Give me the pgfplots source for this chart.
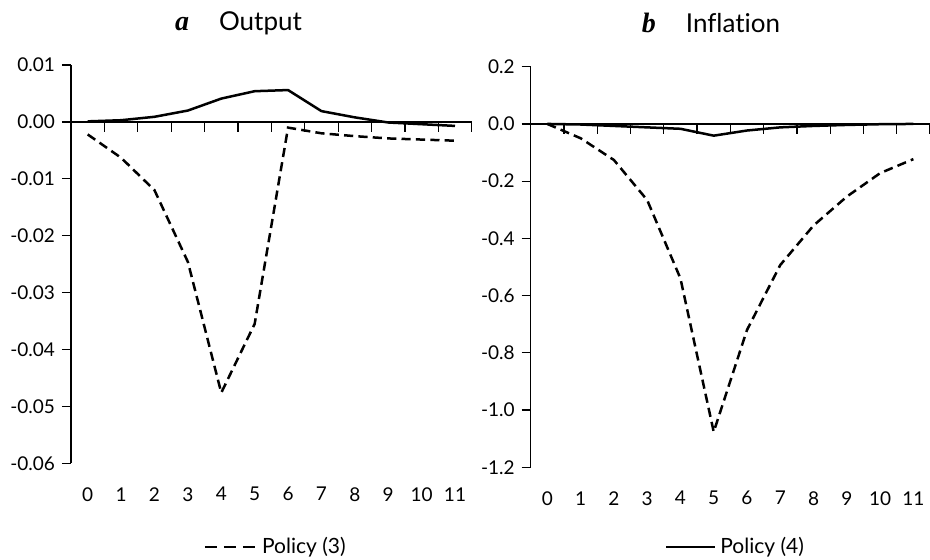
\documentclass[border=0pt]{standalone}
\usepackage{pgfplots}
\pgfplotsset{compat=1.18}
\usepackage{pgfplotstable}
\usepackage{fontspec}
\setmainfont{Lato}[Ligatures={NoCommon,NoRequired}]
\newfontfamily\serifbi{Liberation Serif}

% impulse responses, periods 0..11
\pgfplotstableread{
t   out3     out4     inf3     inf4
0   -0.0022  0.0001   0.000    0.000
1   -0.0063  0.0003   -0.050   -0.002
2   -0.0120  0.0009   -0.126   -0.007
3   -0.0246  0.0020   -0.266   -0.012
4   -0.0476  0.0041   -0.540   -0.017
5   -0.0355  0.0054   -1.076   -0.041
6   -0.0010  0.0056   -0.720   -0.023
7   -0.0020  0.0019   -0.493   -0.012
8   -0.0025  0.0008   -0.355   -0.007
9   -0.0029  -0.0001  -0.254   -0.0035
10  -0.0031  -0.0004  -0.172   -0.001
11  -0.0033  -0.0007  -0.123   0.000
}\irf

\pgfplotsset{
  base/.style={
    scale only axis, anchor=south west,
    xmin=-0.5, xmax=11.5,
    axis line style={line width=0.6pt},
    tick style={line width=0.6pt, black},
    tick align=outside,
    scaled y ticks=false,
    /pgf/number format/assume math mode=true,
    ticklabel style={font=\fontsize{9.5}{10}\selectfont},
  },
  main/.style={
    base, clip=false,
    axis y line*=left, axis x line*=bottom,
    x axis line style={draw=none},
    xtick={0,...,11}, major x tick style={draw=none},
    xticklabel style={yshift=-4pt},
    yticklabel style={xshift=0pt},
    major tick length=4.5pt,
    legend style={draw=none, fill=none, anchor=west,
      font=\fontsize{10.5}{11}\selectfont, inner sep=0pt,
      nodes={inner sep=2pt}},
  },
  zero/.style={
    base,
    axis x line*=middle, axis y line=none,
    xtick={0.5,1.5,...,11.5}, xticklabels={},
    ytick=\empty, major tick length=5pt,
  },
  dashline/.style={line width=1.25pt, dash pattern=on 4.6pt off 2.6pt},
  solidline/.style={line width=1.25pt},
}

\begin{document}
\begin{tikzpicture}
\path[use as bounding box] (0,0) rectangle (465pt,279.5pt);

% a: Output
\begin{axis}[main, at={(35.5pt,47.85pt)}, width=200.35pt, height=199.15pt,
  ymin=-0.06, ymax=0.01, ytick={-0.06,-0.05,...,0.01},
  yticklabels={-0.06,-0.05,-0.04,-0.03,-0.02,-0.01,0.00,0.01},
  legend style={at={(axis description cs:0.33,-0.21)}},
  legend image code/.code={\draw[line width=1.25pt, dash pattern=on 6pt off 3.5pt] (0pt,0pt) -- (26pt,0pt);}]
\addplot[dashline] table[x=t, y=out3] {\irf};
\addlegendentry{Policy (3)}
\addplot[solidline, forget plot] table[x=t, y=out4] {\irf};
\end{axis}
\begin{axis}[zero, at={(35.5pt,47.85pt)}, width=200.35pt, height=199.15pt,
  ymin=-0.06, ymax=0.01]
\end{axis}

% b: Inflation
\begin{axis}[main, at={(265.35pt,45.85pt)}, width=199.65pt, height=200.3pt,
  ymin=-1.2, ymax=0.2, ytick={-1.2,-1.0,...,0.2},
  yticklabels={-1.2,-1.0,-0.8,-0.6,-0.4,-0.2,0.0,0.2},
  legend style={at={(axis description cs:0.335,-0.199)}},
  legend image code/.code={\draw[line width=1.25pt] (0pt,0pt) -- (24.5pt,0pt);}]
\addplot[dashline, forget plot] table[x=t, y=inf3] {\irf};
\addplot[solidline] table[x=t, y=inf4] {\irf};
\addlegendentry{Policy (4)}
\end{axis}
\begin{axis}[zero, at={(265.35pt,45.85pt)}, width=199.65pt, height=200.3pt,
  ymin=-1.2, ymax=0.2]
\end{axis}

\node[anchor=base, font=\fontsize{13}{15}\selectfont] at (119.25pt,264.5pt)
  {{\serifbi\fontsize{14}{15}\selectfont\bfseries\itshape a}\hspace{15pt}Output};
\node[anchor=base, font=\fontsize{13}{15}\selectfont] at (355.5pt,263.5pt)
  {{\serifbi\fontsize{14}{15}\selectfont\bfseries\itshape b}\hspace{15pt}Inflation};
\end{tikzpicture}
\end{document}
